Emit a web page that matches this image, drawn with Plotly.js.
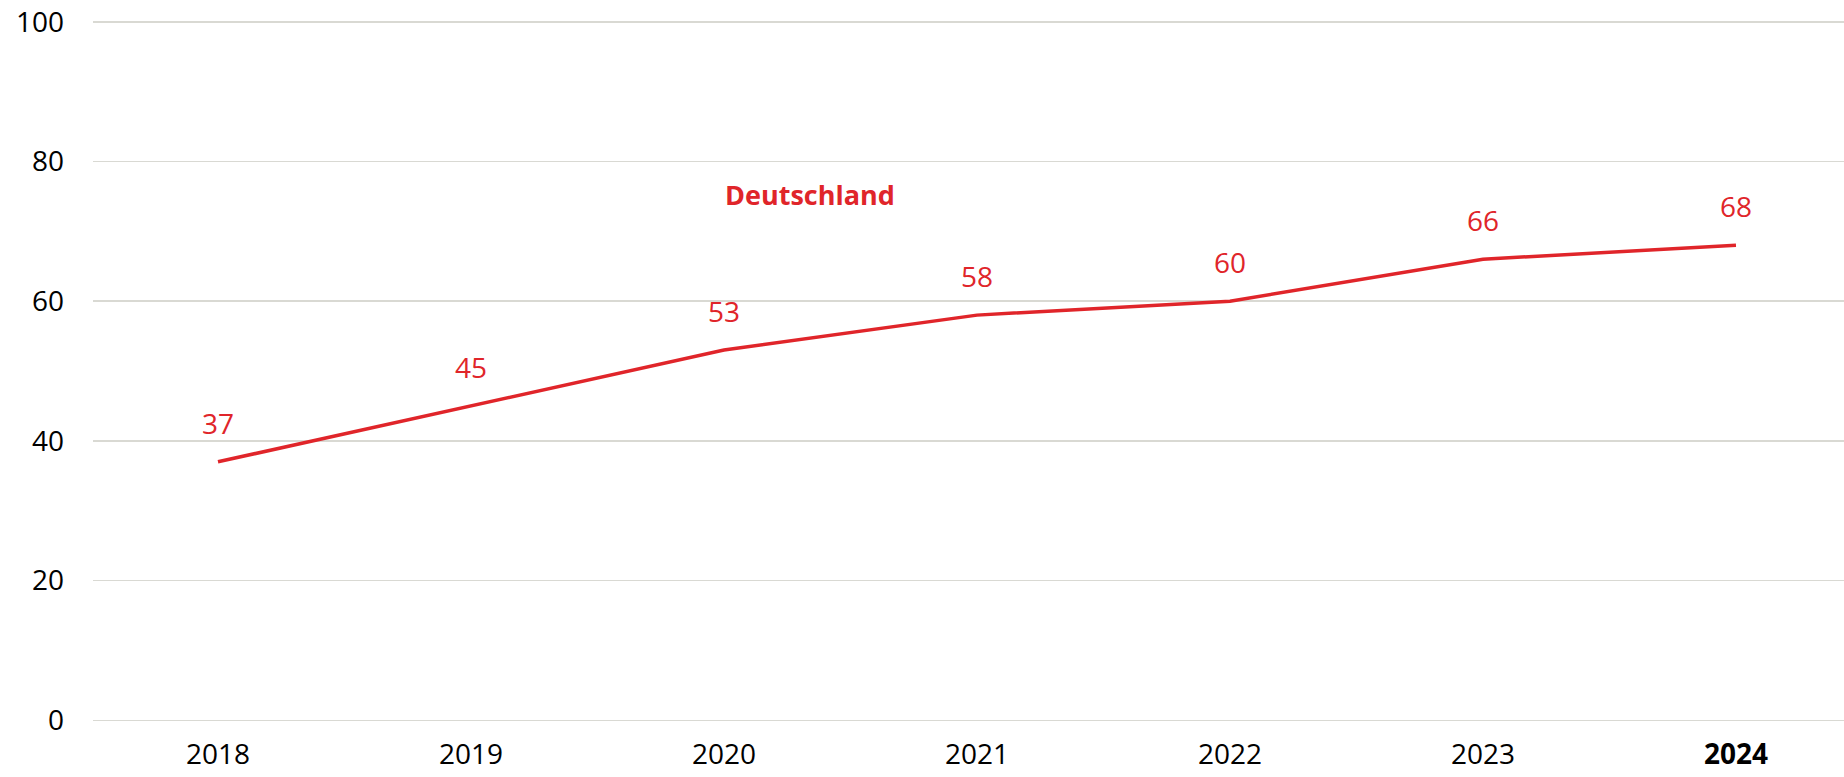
<!DOCTYPE html>
<html>
<head>
<meta charset="utf-8">
<script src="https://cdn.plot.ly/plotly-3.0.1.min.js"></script>
<style>
  html, body { margin: 0; padding: 0; background: #ffffff; }
  #chart { width: 1844px; height: 777px; }
</style>
</head>
<body>
<div id="chart"></div>
<script>
// ---- data ----
const years = ["2018", "2019", "2020", "2021", "2022", "2023", "2024"];
const tickLabels = ["2018", "2019", "2020", "2021", "2022", "2023", "<b>2024</b>"];
const deutschland = [37, 45, 53, 58, 60, 66, 68];
const seriesName = "Deutschland";
const yTicks = [0, 20, 40, 60, 80, 100];

const red = "rgb(224,37,42)";
const font = "'Open Sans', 'Liberation Sans', Arial, sans-serif";

const trace = {
  x: years,
  y: deutschland,
  type: "scatter",
  mode: "lines",
  line: { color: red, width: 3.5 },
  hoverinfo: "skip",
  showlegend: false
};

const valueLabels = years.map((yr, i) => ({
  x: i,
  y: deutschland[i],
  xref: "x",
  yref: "y",
  text: String(deutschland[i]),
  showarrow: false,
  xanchor: "center",
  yanchor: "bottom",
  yshift: 18,
  font: { family: font, size: 28, color: red }
}));

const layout = {
  width: 1844,
  height: 777,
  margin: { l: 93, r: 0, t: 20, b: 55 },
  paper_bgcolor: "#ffffff",
  plot_bgcolor: "#ffffff",
  font: { family: font, size: 28, color: "#000000" },
  showlegend: false,
  xaxis: {
    type: "category",
    range: [-0.494, 6.427],
    tickmode: "array",
    tickvals: years,
    ticktext: tickLabels,
    showgrid: false,
    zeroline: false,
    showline: false,
    ticks: "",
    ticklabelstandoff: 13,
    tickfont: { family: font, size: 28, color: "#000000" },
    fixedrange: true
  },
  yaxis: {
    range: [-0.25, 100.25],
    tickmode: "array",
    tickvals: yTicks,
    showgrid: true,
    gridcolor: "#d9d9d3",
    gridwidth: 1.5,
    zeroline: false,
    showline: false,
    ticks: "",
    ticklabelstandoff: 28,
    tickfont: { family: font, size: 28, color: "#000000" },
    fixedrange: true
  },
  annotations: valueLabels.concat([{
    x: 2.34,
    y: 75.3,
    xref: "x",
    yref: "y",
    text: "<b>" + seriesName + "</b>",
    showarrow: false,
    xanchor: "center",
    yanchor: "middle",
    font: { family: font, size: 27, color: red }
  }])
};

Plotly.newPlot("chart", [trace], layout, { displayModeBar: false, staticPlot: true });
</script>
</body>
</html>
